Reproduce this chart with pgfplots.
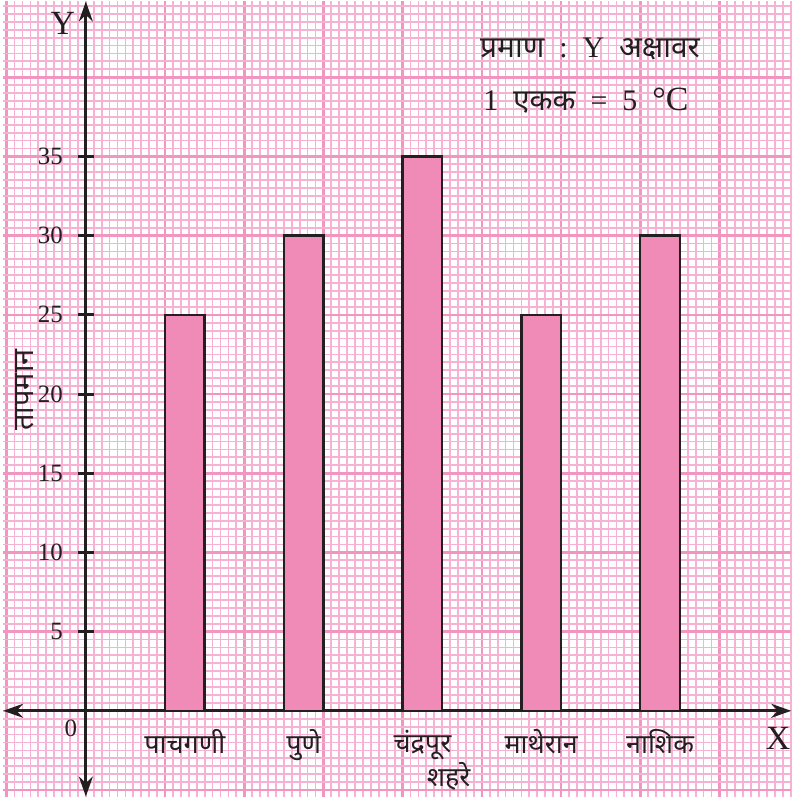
\documentclass[border=0pt]{standalone}
\usepackage{pgfplots}
\pgfplotsset{compat=1.18}
\usetikzlibrary{arrows.meta}
\usepackage{fontspec}
\setmainfont{Liberation Serif}
\newfontfamily\deva[Script=Devanagari]{Noto Sans}
\definecolor{barpink}{RGB}{240,138,182}
\definecolor{axisblack}{RGB}{35,31,32}
\definecolor{gridminor}{RGB}{246,178,210}
\definecolor{gridmajor}{RGB}{240,150,192}
\begin{document}
\begin{tikzpicture}
\begin{axis}[
  scale only axis,
  width=395.5pt, height=399pt,
  xmin=-5.22, xmax=44.53, ymin=-5.41, ymax=44.78,
  enlargelimits=false,
  axis lines=middle,
  axis line style={{Stealth[length=10pt,width=7pt]}-{Stealth[length=10pt,width=7pt]}, line width=1.5pt, color=axisblack},
  xtick={-5,0,...,40}, ytick={-5,0,...,40},
  minor xtick={-5,-4.5,...,44.5}, minor ytick={-5,-4.5,...,44.5},
  xticklabels={}, yticklabels={},
  major tick length=0pt, minor tick length=0pt,
  grid=both,
  minor grid style={draw=gridminor, line width=0.9pt},
  major grid style={draw=gridmajor, line width=1.3pt},
  /pgf/number format/assume math mode=true,
  extra y ticks={5,10,15,20,25,30,35},
  extra y tick labels={5,10,15,20,25,30,35},
  extra y tick style={grid=none, major tick length=8pt, tick align=center,
    tick style={line width=1.5pt, color=axisblack},
    yticklabel style={font=\fontsize{12.5}{14}\selectfont, xshift=-4pt, text=axisblack}},
  extra x ticks={6.25,13.75,21.25,28.75,36.25},
  extra x tick labels={पाचगणी,पुणे,चंद्रपूर,माथेरान,नाशिक},
  extra x tick style={grid=none, major tick length=0pt,
    xticklabel style={font=\deva\fontsize{13.5}{15}\selectfont, yshift=-6pt, text=axisblack}},
]
\addplot[ybar, bar width=2.5, fill=barpink, draw=axisblack, line width=1.25pt]
  coordinates {(6.25,25) (13.75,30) (21.25,35) (28.75,25) (36.25,30)};
\node[font=\fontsize{17}{20}\selectfont, text=axisblack] at (axis cs:-1.45,43.4) {Y};
\node[font=\fontsize{17}{20}\selectfont, text=axisblack] at (axis cs:43.7,-1.76) {X};
\node[font=\fontsize{12.5}{14}\selectfont, text=axisblack] at (axis cs:-0.94,-1.13) {0};
\node[anchor=west, font=\fontsize{15}{18}\selectfont, text=axisblack] at (axis cs:24.45,41.8)
  {{\deva प्रमाण}\ \ :\ \ Y\ \ {\deva अक्षावर}};
\node[anchor=west, font=\fontsize{15}{18}\selectfont, text=axisblack] at (axis cs:24.65,38.5)
  {1\ \ {\deva एकक}\ \ =\ \ 5\ \ {\fontsize{17}{18}\selectfont °C}};
\node[rotate=90, font=\deva\fontsize{14.5}{16}\selectfont, text=axisblack] at (axis cs:-3.84,20.25) {तापमान};
\node[font=\deva\fontsize{13.5}{15}\selectfont, text=axisblack] at (axis cs:22.9,-4.15) {शहरे};
\end{axis}
\end{tikzpicture}
\end{document}
